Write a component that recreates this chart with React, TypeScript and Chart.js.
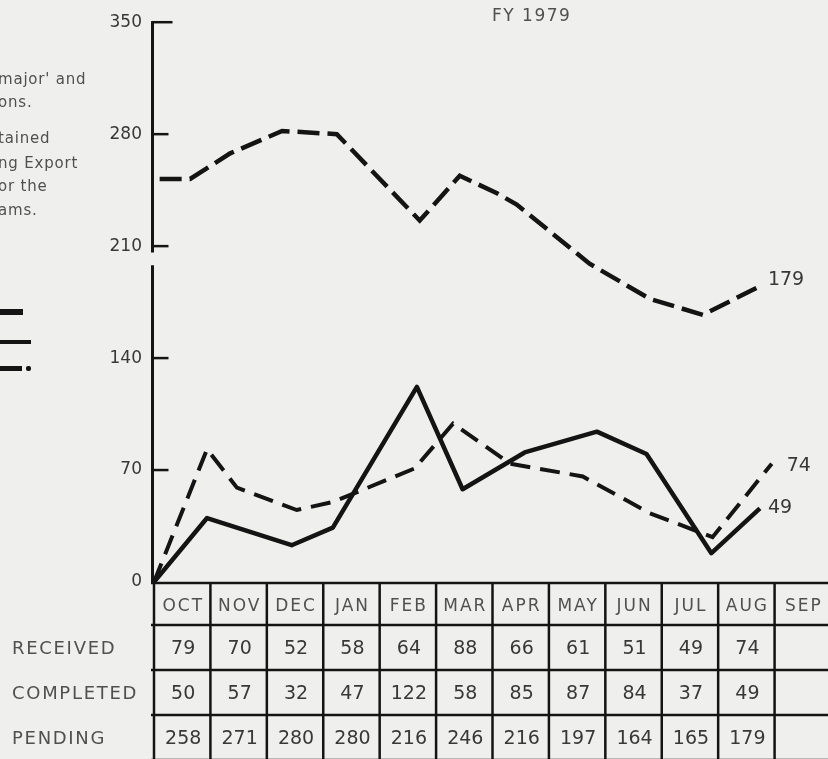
import { useEffect, useRef } from "react";
import { Chart, registerables } from "chart.js";

Chart.register(...registerables);

// ---- data ----
const months = ["OCT", "NOV", "DEC", "JAN", "FEB", "MAR", "APR", "MAY", "JUN", "JUL", "AUG", "SEP"];
const rowNames = ["RECEIVED", "COMPLETED", "PENDING"];
const tableReceived = [79, 70, 52, 58, 64, 88, 66, 61, 51, 49, 74];
const tableCompleted = [50, 57, 32, 47, 122, 58, 85, 87, 84, 37, 49];
const tablePending = [258, 271, 280, 280, 216, 246, 216, 197, 164, 165, 179];
const yTickValues = [0, 70, 140, 210, 280, 350];

// plotted traces (month position since 1 Oct, value)
const pendingMonth = [0.1, 0.64, 1.35, 2.27, 3.24, 4.71, 5.42, 6.08, 6.43, 7.72, 8.79, 9.73, 10.74];
const pendingValue = [252, 252, 268, 282, 280, 226, 254, 243, 236, 199, 177, 167, 185];
const receivedMonth = [0, 0.94, 1.47, 2.53, 3.17, 4.62, 5.3, 6.31, 7.6, 8.79, 9.9, 10.95];
const receivedValue = [0, 83, 59, 45, 50, 71, 99, 74, 66, 43, 28, 74];
const completedMonth = [0, 0.94, 2.44, 3.17, 4.66, 5.47, 6.57, 7.85, 8.73, 9.88, 10.74];
const completedValue = [0, 40, 23, 34, 122, 58, 81, 94, 80, 18, 46];

const sideText = ["major' and", "ons.", "tained", "ng Export", "or the", "ams."];

// ---- style ----
const INK = "#141414";
const TEXT = "#383838";
const SOFT = "#505050";
const BG = "#efefed";
const FONT = '"DejaVu Sans", "Liberation Sans", sans-serif';
const AXIS_BREAK = [198, 206];
const endOffsets = [
  [8, -6],
  [15, 2],
  [8, 0],
];

const pts = (xs: number[], ys: number[]) => xs.map((x, i) => ({ x, y: ys[i] }));

const axisPlugin = {
  id: "brokenAxis",
  beforeDatasetsDraw(chart: any) {
    const { ctx, scales } = chart;
    const x = scales.x;
    const y = scales.y;
    const ax = x.getPixelForValue(0) - 1.5;
    ctx.save();
    ctx.strokeStyle = INK;
    ctx.lineWidth = 3;
    ctx.beginPath();
    ctx.moveTo(ax, y.getPixelForValue(350) - 1);
    ctx.lineTo(ax, y.getPixelForValue(AXIS_BREAK[1]));
    ctx.moveTo(ax, y.getPixelForValue(AXIS_BREAK[0]));
    ctx.lineTo(ax, y.getPixelForValue(0));
    ctx.stroke();
    ctx.lineWidth = 2.5;
    yTickValues.forEach((v) => {
      if (v === 0) return;
      const py = y.getPixelForValue(v);
      ctx.beginPath();
      ctx.moveTo(ax - 1, py);
      ctx.lineTo(ax + (v === 350 ? 20 : 16), py);
      ctx.stroke();
    });
    ctx.restore();
  },
};

const endLabelPlugin = {
  id: "endLabels",
  afterDatasetsDraw(chart: any) {
    const { ctx } = chart;
    const labels = [tablePending, tableReceived, tableCompleted].map((a) => a[a.length - 1]);
    ctx.save();
    ctx.fillStyle = TEXT;
    ctx.font = `19px ${FONT}`;
    ctx.textAlign = "left";
    ctx.textBaseline = "middle";
    chart.data.datasets.forEach((_d: any, i: number) => {
      const meta = chart.getDatasetMeta(i);
      const last = meta.data[meta.data.length - 1];
      ctx.fillText(String(labels[i]), last.x + endOffsets[i][0], last.y + endOffsets[i][1]);
    });
    ctx.restore();
  },
};

const tablePlugin = {
  id: "dataTable",
  afterDraw(chart: any) {
    const { ctx, scales } = chart;
    const x = scales.x;
    const y = scales.y;
    const top = y.getPixelForValue(0) + 1;
    const heights = [42, 45, 45, 45];
    const edges = [top];
    heights.forEach((h) => edges.push(edges[edges.length - 1] + h));
    const left = x.getPixelForValue(0);
    const right = x.getPixelForValue(12);
    ctx.save();
    ctx.strokeStyle = INK;
    ctx.lineWidth = 2.5;
    ctx.beginPath();
    edges.forEach((e) => {
      ctx.moveTo(left - 3, e);
      ctx.lineTo(right + 10, e);
    });
    for (let i = 0; i <= 12; i++) {
      const px = x.getPixelForValue(i);
      ctx.moveTo(px, top);
      ctx.lineTo(px, edges[4] + 10);
    }
    ctx.stroke();

    ctx.textBaseline = "middle";
    ctx.textAlign = "center";
    ctx.fillStyle = SOFT;
    ctx.font = `17px ${FONT}`;
    if ("letterSpacing" in ctx) (ctx as any).letterSpacing = "2px";
    months.forEach((m, i) => {
      ctx.fillText(m, x.getPixelForValue(i + 0.5) + 1, (edges[0] + edges[1]) / 2 + 3);
    });

    ctx.textAlign = "left";
    ctx.font = `18px ${FONT}`;
    if ("letterSpacing" in ctx) (ctx as any).letterSpacing = "1.7px";
    rowNames.forEach((n, r) => {
      ctx.fillText(n, 12, (edges[r + 1] + edges[r + 2]) / 2 + 2);
    });

    ctx.textAlign = "center";
    ctx.fillStyle = TEXT;
    ctx.font = `19px ${FONT}`;
    if ("letterSpacing" in ctx) (ctx as any).letterSpacing = "0px";
    [tableReceived, tableCompleted, tablePending].forEach((row, r) => {
      row.forEach((v, i) => {
        ctx.fillText(String(v), x.getPixelForValue(i + 0.5) + 1, (edges[r + 1] + edges[r + 2]) / 2 + 2);
      });
    });
    ctx.restore();
  },
};

export default function App() {
  const ref = useRef<HTMLCanvasElement | null>(null);

  useEffect(() => {
    if (!ref.current) return;
    const chart = new Chart(ref.current, {
      type: "line",
      data: {
        datasets: [
          {
            label: "PENDING",
            data: pts(pendingMonth, pendingValue),
            borderColor: INK,
            borderWidth: 4.5,
            borderDash: [22, 8],
            pointRadius: 0,
            tension: 0,
            fill: false,
          },
          {
            label: "RECEIVED",
            data: pts(receivedMonth, receivedValue),
            borderColor: INK,
            borderWidth: 4,
            borderDash: [20, 10],
            pointRadius: 0,
            tension: 0,
            fill: false,
          },
          {
            label: "COMPLETED",
            data: pts(completedMonth, completedValue),
            borderColor: INK,
            borderWidth: 4.5,
            borderJoinStyle: "round",
            pointRadius: 0,
            tension: 0,
            fill: false,
          },
        ],
      },
      options: {
        responsive: false,
        animation: false,
        events: [],
        layout: { padding: { top: 18, bottom: 177, left: 0, right: 9 } },
        plugins: { legend: { display: false }, tooltip: { enabled: false }, title: { display: false } },
        scales: {
          x: { type: "linear", min: 0, max: 12, display: false },
          y: {
            type: "linear",
            min: 0,
            max: 350,
            grid: { display: false, drawTicks: false },
            border: { display: false },
            afterBuildTicks: (s: any) => {
              s.ticks = yTickValues.map((v) => ({ value: v }));
            },
            afterFit: (s: any) => {
              s.width = 154;
            },
            ticks: {
              padding: 12,
              color: TEXT,
              font: { family: FONT, size: 17 },
            },
          },
        },
      },
      plugins: [axisPlugin, endLabelPlugin, tablePlugin],
    });
    return () => chart.destroy();
  }, []);

  const sideTop = [79, 102, 138, 163, 186, 210];

  return (
    <div
      style={{
        position: "fixed",
        left: 0,
        top: 0,
        width: 828,
        height: 759,
        overflow: "hidden",
        background: BG,
        fontFamily: FONT,
      }}
    >
      <canvas ref={ref} width={840} height={759} style={{ position: "absolute", left: 0, top: 0, width: 840, height: 759 }} />
      <div
        style={{
          position: "absolute",
          left: 492,
          top: 5,
          fontSize: 17,
          lineHeight: "20px",
          letterSpacing: "1.5px",
          color: SOFT,
          whiteSpace: "nowrap",
        }}
      >
        FY 1979
      </div>
      {sideText.map((t, i) => (
        <div
          key={i}
          style={{
            position: "absolute",
            left: -2,
            top: sideTop[i] - 10,
            fontSize: 15,
            lineHeight: "20px",
            letterSpacing: "0.8px",
            color: SOFT,
            whiteSpace: "nowrap",
          }}
        >
          {t}
        </div>
      ))}
      <div style={{ position: "absolute", left: 0, top: 309, width: 23, height: 6, background: INK }} />
      <div style={{ position: "absolute", left: 0, top: 340, width: 31, height: 4, background: INK }} />
      <div style={{ position: "absolute", left: 0, top: 366, width: 22, height: 5, background: INK }} />
      <div style={{ position: "absolute", left: 26, top: 366, width: 5, height: 5, borderRadius: 2, background: INK }} />
    </div>
  );
}
